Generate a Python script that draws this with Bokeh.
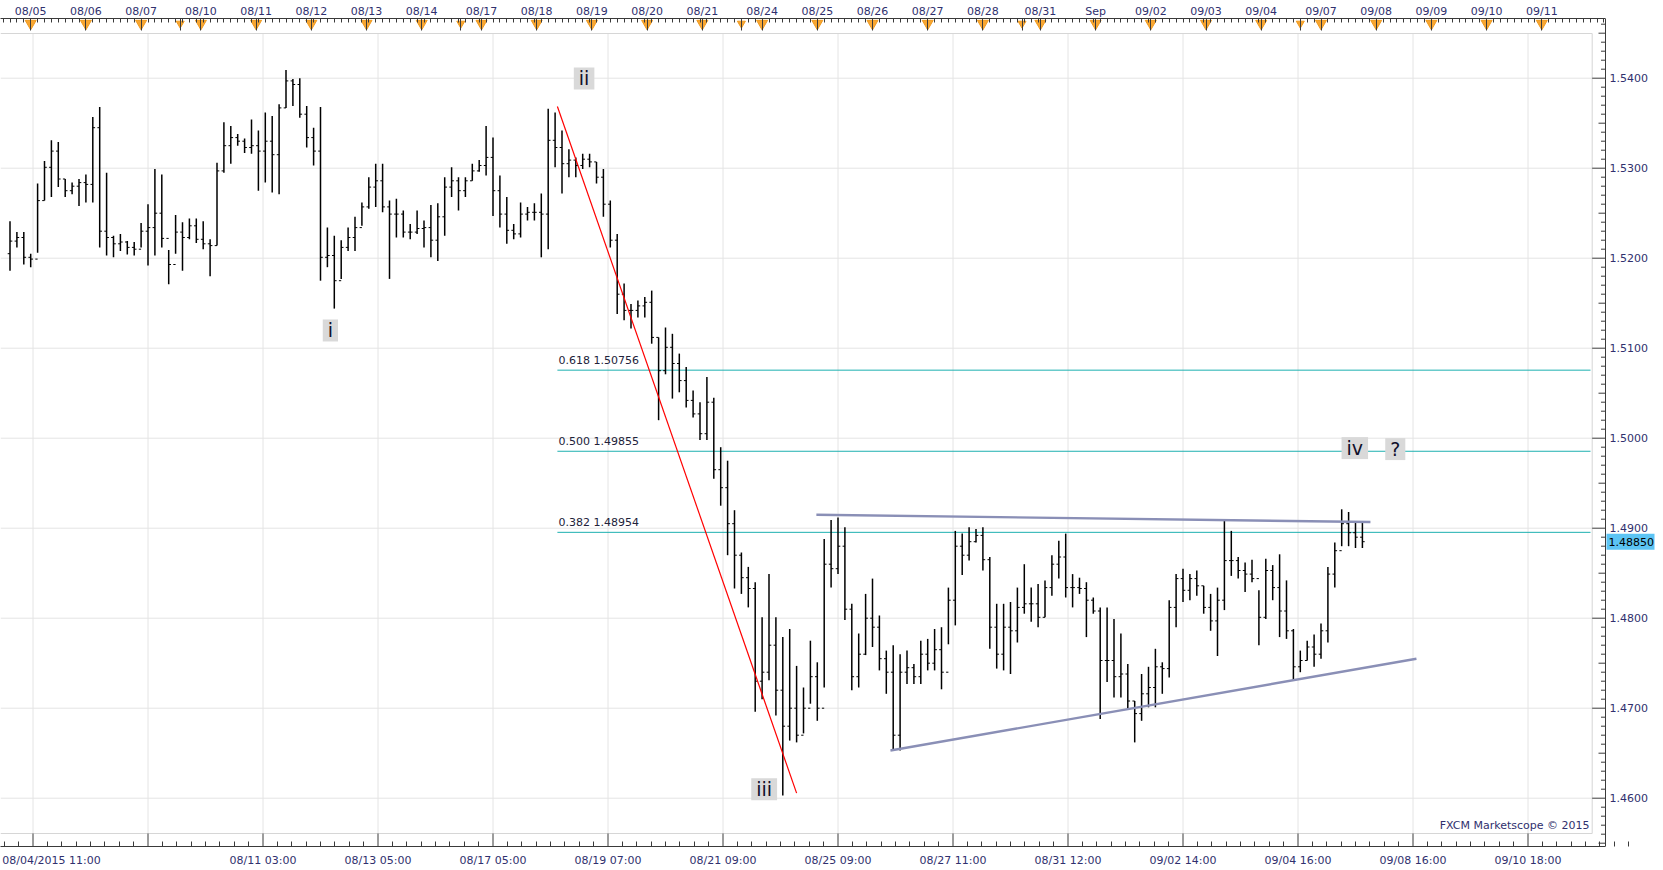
from bokeh.plotting import figure
from bokeh.models import (ColumnDataSource, LinearAxis, FixedTicker, Range1d, Label)
from bokeh.core.properties import value
from bokeh.embed import file_html
from bokeh.resources import INLINE

# ---------------- data (GBP/USD, 3-hour bars) ----------------
FIRST_HOUR = -10          # trading-hour index of first bar (hour 0 = 08/04/2015 11:00)
BAR_HOURS = 3
FIRST_OPEN = 1.5205

HIGH = [
    1.5241, 1.5229, 1.5229, 1.5205, 1.5283, 1.5308, 1.5331, 1.5329, 1.5288, 1.5284,
    1.5288, 1.5293, 1.5357, 1.5368, 1.5295, 1.5225, 1.5227, 1.5219, 1.5218, 1.5239,
    1.5260, 1.5299, 1.5293, 1.5209, 1.5248, 1.5240, 1.5244, 1.5244, 1.5241, 1.5221,
    1.5306, 1.5351, 1.5347, 1.5338, 1.5333, 1.5354, 1.5342, 1.5362, 1.5358, 1.5371,
    1.5409, 1.5399, 1.5400, 1.5369, 1.5345, 1.5368, 1.5234,
    1.5225, 1.5220, 1.5234, 1.5246, 1.5262, 1.5290, 1.5305, 1.5305, 1.5264, 1.5266,
    1.5253, 1.5238, 1.5253, 1.5242, 1.5259, 1.5261, 1.5290, 1.5301, 1.5290, 1.5290,
    1.5305, 1.5309, 1.5347, 1.5334, 1.5292, 1.5268, 1.5238, 1.5262, 1.5257, 1.5261,
    1.5272, 1.5366, 1.5362, 1.5342, 1.5321, 1.5312, 1.5316, 1.5316, 1.5307, 1.5299,
    1.5264, 1.5227, 1.5172, 1.5149, 1.5153, 1.5157, 1.5164, 1.5112, 1.5123, 1.5116,
    1.5094, 1.5079, 1.5053,
    1.5040, 1.5068, 1.5045, 1.4990, 1.4975, 1.4920, 1.4873, 1.4857, 1.4840, 1.4801,
    1.4849, 1.4801, 1.4779, 1.4788, 1.4747, 1.4723, 1.4775, 1.4751, 1.4888, 1.4909,
    1.4912, 1.4901, 1.4816, 1.4783, 1.4827, 1.4844, 1.4803, 1.4764, 1.4770, 1.4760,
    1.4764, 1.4749, 1.4775, 1.4777, 1.4788, 1.4790, 1.4834, 1.4897, 1.4894, 1.4901,
    1.4899, 1.4901, 1.4868, 1.4816, 1.4816,
    1.4818, 1.4834, 1.4860, 1.4834, 1.4838, 1.4842, 1.4870, 1.4886, 1.4894, 1.4849,
    1.4845, 1.4840, 1.4823, 1.4812, 1.4812, 1.4799, 1.4783, 1.4749, 1.4708, 1.4738,
    1.4746, 1.4766, 1.4751, 1.4820, 1.4849, 1.4855, 1.4849, 1.4853, 1.4836, 1.4827,
    1.4834, 1.4910, 1.4897, 1.4868, 1.4862, 1.4865, 1.4831, 1.4866, 1.4859, 1.4871,
    1.4842, 1.4788, 1.4764, 1.4775, 1.4782, 1.4794, 1.4857, 1.4884, 1.4921, 1.4918,
    1.4908, 1.4908,
]
LOW = [
    1.5186, 1.5212, 1.5193, 1.5190, 1.5206, 1.5264, 1.5268, 1.5279, 1.5268, 1.5271,
    1.5258, 1.5262, 1.5262, 1.5212, 1.5203, 1.5201, 1.5208, 1.5204, 1.5203, 1.5212,
    1.5192, 1.5203, 1.5212, 1.5171, 1.5205, 1.5186, 1.5221, 1.5217, 1.5210, 1.5180,
    1.5214, 1.5295, 1.5305, 1.5325, 1.5317, 1.5316, 1.5275, 1.5284, 1.5273, 1.5271,
    1.5367, 1.5369, 1.5356, 1.5323, 1.5303, 1.5175, 1.5190,
    1.5144, 1.5177, 1.5208, 1.5208, 1.5236, 1.5255, 1.5257, 1.5251, 1.5177, 1.5223,
    1.5223, 1.5221, 1.5227, 1.5212, 1.5201, 1.5197, 1.5225, 1.5268, 1.5253, 1.5268,
    1.5286, 1.5296, 1.5292, 1.5247, 1.5234, 1.5216, 1.5221, 1.5223, 1.5242, 1.5242,
    1.5201, 1.5210, 1.5301, 1.5272, 1.5290, 1.5290, 1.5299, 1.5301, 1.5283, 1.5246,
    1.5212, 1.5138, 1.5131, 1.5122, 1.5134, 1.5134, 1.5105, 1.5020, 1.5071, 1.5044,
    1.5051, 1.5034, 1.5023,
    1.4998, 1.4998, 1.4955, 1.4925, 1.4870, 1.4833, 1.4827, 1.4812, 1.4696, 1.4710,
    1.4731, 1.4692, 1.4603, 1.4664, 1.4662, 1.4672, 1.4705, 1.4686, 1.4723, 1.4834,
    1.4849, 1.4798, 1.4720, 1.4723, 1.4759, 1.4768, 1.4742, 1.4716, 1.4653, 1.4653,
    1.4727, 1.4727, 1.4727, 1.4742, 1.4742, 1.4721, 1.4771, 1.4792, 1.4848, 1.4864,
    1.4884, 1.4853, 1.4766, 1.4744, 1.4742,
    1.4738, 1.4773, 1.4805, 1.4796, 1.4790, 1.4801, 1.4825, 1.4844, 1.4823, 1.4812,
    1.4827, 1.4779, 1.4805, 1.4688, 1.4729, 1.4712, 1.4712, 1.4699, 1.4662, 1.4686,
    1.4701, 1.4701, 1.4716, 1.4734, 1.4790, 1.4818, 1.4820, 1.4825, 1.4805, 1.4786,
    1.4758, 1.4809, 1.4847, 1.4844, 1.4829, 1.4840, 1.4770, 1.4799, 1.4820, 1.4779,
    1.4777, 1.4731, 1.4740, 1.4753, 1.4746, 1.4755, 1.4773, 1.4834, 1.4880, 1.4880,
    1.4878, 1.4878,
]
CLOSE = [
    1.5219, 1.5223, 1.5201, 1.5199, 1.5264, 1.5301, 1.5319, 1.5288, 1.5275, 1.5280,
    1.5284, 1.5282, 1.5345, 1.5230, 1.5223, 1.5216, 1.5218, 1.5212, 1.5210, 1.5230,
    1.5234, 1.5250, 1.5222, 1.5193, 1.5229, 1.5223, 1.5236, 1.5221, 1.5216, 1.5214,
    1.5297, 1.5325, 1.5334, 1.5330, 1.5323, 1.5325, 1.5319, 1.5330, 1.5315, 1.5367,
    1.5397, 1.5393, 1.5360, 1.5334, 1.5319, 1.5201, 1.5203,
    1.5175, 1.5212, 1.5223, 1.5234, 1.5257, 1.5279, 1.5286, 1.5257, 1.5249, 1.5249,
    1.5229, 1.5229, 1.5233, 1.5234, 1.5220, 1.5246, 1.5279, 1.5286, 1.5275, 1.5286,
    1.5297, 1.5303, 1.5312, 1.5275, 1.5249, 1.5231, 1.5227, 1.5249, 1.5251, 1.5251,
    1.5249, 1.5331, 1.5323, 1.5305, 1.5309, 1.5303, 1.5310, 1.5307, 1.5290, 1.5260,
    1.5220, 1.5160, 1.5142, 1.5142, 1.5147, 1.5151, 1.5112, 1.5075, 1.5101, 1.5083,
    1.5064, 1.5042, 1.5027,
    1.5005, 1.5040, 1.4965, 1.4945, 1.4905, 1.4870, 1.4845, 1.4833, 1.4730, 1.4740,
    1.4770, 1.4720, 1.4680, 1.4700, 1.4670, 1.4700, 1.4735, 1.4700, 1.4860, 1.4855,
    1.4880, 1.4810, 1.4735, 1.4760, 1.4800, 1.4790, 1.4755, 1.4740, 1.4670, 1.4740,
    1.4745, 1.4735, 1.4760, 1.4750, 1.4765, 1.4740, 1.4820, 1.4880, 1.4870, 1.4885,
    1.4892, 1.4865, 1.4790, 1.4760, 1.4790,
    1.4786, 1.4812, 1.4816, 1.4816, 1.4801, 1.4834, 1.4860, 1.4868, 1.4834, 1.4834,
    1.4833, 1.4820, 1.4808, 1.4753, 1.4753, 1.4735, 1.4738, 1.4708, 1.4694, 1.4716,
    1.4723, 1.4746, 1.4744, 1.4812, 1.4844, 1.4831, 1.4844, 1.4836, 1.4812, 1.4797,
    1.4820, 1.4864, 1.4864, 1.4853, 1.4849, 1.4844, 1.4801, 1.4853, 1.4834, 1.4808,
    1.4786, 1.4746, 1.4753, 1.4768, 1.4760, 1.4786, 1.4849, 1.4875, 1.4905, 1.4895,
    1.4890, 1.4885,
]

TOP_TICK_HOURS = [-1, 23, 47, 64, 73, 97, 121, 145, 169, 186, 195, 219, 243, 267, 291,
                  308, 317, 341, 365, 389, 413, 430, 438, 462, 486, 510, 534, 551, 560,
                  584, 608, 632, 656]
TOP_TICK_LABELS = ["08/05", "08/06", "08/07", "", "08/10", "08/11", "08/12", "08/13",
                   "08/14", "", "08/17", "08/18", "08/19", "08/20", "08/21", "", "08/24",
                   "08/25", "08/26", "08/27", "08/28", "", "08/31", "Sep", "09/02",
                   "09/03", "09/04", "", "09/07", "09/08", "09/09", "09/10", "09/11"]
BOTTOM_TICK_HOURS = [0, 50, 100, 150, 200, 250, 300, 350, 400, 450, 500, 550, 600, 650]
BOTTOM_TICK_LABELS = ["08/04/2015 11:00", "", "08/11 03:00", "08/13 05:00", "08/17 05:00",
                      "08/19 07:00", "08/21 09:00", "08/25 09:00", "08/27 11:00",
                      "08/31 12:00", "09/02 14:00", "09/04 16:00", "09/08 16:00",
                      "09/10 18:00"]
PRICE_TICKS = [1.46, 1.47, 1.48, 1.49, 1.50, 1.51, 1.52, 1.53, 1.54]

FIB_RATIOS = ["0.618", "0.500", "0.382"]
FIB_LEVELS = [1.50756, 1.49855, 1.48954]
FIB_START_HOUR = 228
LAST_PRICE = 1.48850

WAVE_LABELS = ["i", "ii", "iii", "iv", "?"]
WAVE_HOURS = [129.3, 239.6, 317.9, 574.7, 592.3]
WAVE_PRICES = [1.51197, 1.53997, 1.46100, 1.49890, 1.49879]

RED_LINE_HOURS = [228.0, 332.0]
RED_LINE_PRICES = [1.53686, 1.46056]
UPPER_LINE_HOURS = [340.6, 581.5]
UPPER_LINE_PRICES = [1.49149, 1.49069]
LOWER_LINE_HOURS = [372.8, 601.5]
LOWER_LINE_PRICES = [1.46530, 1.47549]

# ---------------- layout / scale constants (page pixels) ----------------
X_HOUR0 = 32.5        # page x of hour 0
PX_PER_HOUR = 2.3
Y_PRICE0 = 77.7       # page y of price 1.54
PRICE0 = 1.54
PX_PER_PRICE = 9000.0
TOP_PANEL = 18
BOTTOM_PANEL = 22
FRAME_W = 1660
FRAME_H = 828
AXIS_X = 1605         # price axis line
IN_RIGHT = 1591.7     # inner plot border
IN_TOP = 33.0
IN_BOTTOM = 833.0


def hx(px):
    return (px - X_HOUR0) / PX_PER_HOUR


def py(pyv):
    return PRICE0 - (pyv - Y_PRICE0) / PX_PER_PRICE


x_range = Range1d(hx(0), hx(FRAME_W))
y_range = Range1d(py(TOP_PANEL + FRAME_H), py(TOP_PANEL))

p = figure(frame_width=FRAME_W, frame_height=FRAME_H, x_range=x_range, y_range=y_range,
           output_backend="svg", toolbar_location=None,
           x_axis_location=None, y_axis_location=None,
           min_border_left=0, min_border_right=0, min_border_top=TOP_PANEL,
           min_border_bottom=BOTTOM_PANEL)
p.outline_line_color = None
p.grid.grid_line_color = None
p.background_fill_color = "white"
p.border_fill_color = "white"

AXIS_TEXT = "#30306E"
AXIS_COLOR = "#3A3A3A"
FONT = "DejaVu Sans"

x_left = hx(0)
x_in_right = hx(IN_RIGHT)
x_axis = hx(AXIS_X)

# gridlines
p.segment(x0=[x_left] * len(PRICE_TICKS), y0=PRICE_TICKS,
          x1=[x_in_right] * len(PRICE_TICKS), y1=PRICE_TICKS,
          line_color="#E4E4E4", line_width=1)
p.segment(x0=BOTTOM_TICK_HOURS, y0=[py(IN_BOTTOM)] * len(BOTTOM_TICK_HOURS),
          x1=BOTTOM_TICK_HOURS, y1=[py(IN_TOP)] * len(BOTTOM_TICK_HOURS),
          line_color="#E4E4E4", line_width=1)
# inner frame
p.segment(x0=[x_in_right, x_left, x_left], y0=[py(IN_TOP), py(IN_TOP), py(IN_BOTTOM)],
          x1=[x_in_right, x_in_right, x_in_right], y1=[py(IN_BOTTOM), py(IN_TOP), py(IN_BOTTOM)],
          line_color="#D6D6D6", line_width=1)

# fibonacci levels
fib_end = hx(1590)
p.segment(x0=[FIB_START_HOUR] * 3, y0=FIB_LEVELS, x1=[fib_end] * 3, y1=FIB_LEVELS,
          line_color="#1CB0B0", line_width=1)
for r, lv in zip(FIB_RATIOS, FIB_LEVELS):
    p.add_layout(Label(x=FIB_START_HOUR, y=lv, text=f"{r} {lv:.5f}", x_offset=1, y_offset=3,
                       text_font=FONT, text_font_size="11px", text_color="#22223A",
                       text_baseline="bottom", text_align="left"))

# OHLC bars
hours = [FIRST_HOUR + BAR_HOURS * i for i in range(len(HIGH))]
opens = [FIRST_OPEN] + CLOSE[:-1]
src = ColumnDataSource(dict(t=hours, h=HIGH, l=LOW, c=CLOSE, o=opens,
                            tl=[t - 1.0 for t in hours], tr=[t + 1.0 for t in hours]))
p.segment(x0="t", y0="l", x1="t", y1="h", source=src, line_color="black", line_width=1.5)
p.segment(x0="tl", y0="o", x1="t", y1="o", source=src, line_color="black", line_width=1)
p.segment(x0="t", y0="c", x1="tr", y1="c", source=src, line_color="black", line_width=1)

# analyst lines
p.line(RED_LINE_HOURS, RED_LINE_PRICES, line_color="#FF0000", line_width=1.2)
p.line(UPPER_LINE_HOURS, UPPER_LINE_PRICES, line_color="#8A8FB6", line_width=2.4)
p.line(LOWER_LINE_HOURS, LOWER_LINE_PRICES, line_color="#8A8FB6", line_width=2.4)

# wave labels
for txt, wx, wy in zip(WAVE_LABELS, WAVE_HOURS, WAVE_PRICES):
    p.add_layout(Label(x=wx, y=wy, text=txt, text_align="center", text_baseline="middle",
                       text_font=FONT, text_font_size="19px", text_color="#10102A",
                       background_fill_color="#D9D9D9", background_fill_alpha=1.0,
                       padding=dict(left=5, right=5, top=0, bottom=0)))

# orange day markers under the top axis
tri_y = py(TOP_PANEL + 5)
big = [h for h, lab in zip(TOP_TICK_HOURS, TOP_TICK_LABELS) if lab]
small = [h for h, lab in zip(TOP_TICK_HOURS, TOP_TICK_LABELS) if not lab]
p.scatter(big, [tri_y] * len(big), marker="inverted_triangle", size=11,
          fill_color="#F8A631", line_color="#F09A1E")
p.scatter(small, [tri_y] * len(small), marker="inverted_triangle", size=8,
          fill_color="#F8A631", line_color="#F09A1E")

# ---------------- axes ----------------
axis_style = dict(axis_line_color=AXIS_COLOR, major_tick_line_color=AXIS_COLOR,
                  minor_tick_line_color=AXIS_COLOR, major_tick_out=0, minor_tick_out=0,
                  major_label_text_font=FONT, major_label_text_font_size="11px",
                  major_label_text_color=AXIS_TEXT, bounds=(x_left, x_axis))

top_minor = list(range(-13, 684, 3))
top_axis = LinearAxis(ticker=FixedTicker(ticks=TOP_TICK_HOURS, minor_ticks=top_minor),
                      major_label_overrides=dict(zip(TOP_TICK_HOURS, TOP_TICK_LABELS)),
                      major_tick_in=12, minor_tick_in=4, major_label_standoff=1, **axis_style)
p.add_layout(top_axis, "above")

# bottom axis: the first label is left-aligned at the chart edge in the original,
# so its label tick sits at the centre of that text; tick marks are drawn below.
FIRST_LABEL_CENTER_PX = 51
label_hours = [hx(FIRST_LABEL_CENTER_PX)] + [h for h, lab in zip(BOTTOM_TICK_HOURS, BOTTOM_TICK_LABELS)
                                             if lab and h != BOTTOM_TICK_HOURS[0]]
label_texts = [BOTTOM_TICK_LABELS[0]] + [lab for h, lab in zip(BOTTOM_TICK_HOURS, BOTTOM_TICK_LABELS)
                                         if lab and h != BOTTOM_TICK_HOURS[0]]
bottom_minor = [b + 6.25 * k for b in range(-50, 700, 50) for k in range(1, 8)]
bottom_axis = LinearAxis(ticker=FixedTicker(ticks=label_hours, minor_ticks=bottom_minor),
                         major_label_overrides=dict(zip(label_hours, label_texts)),
                         major_tick_in=0, minor_tick_in=5, major_label_standoff=7, **axis_style)
p.add_layout(bottom_axis, "below")
bottom_line_y = py(TOP_PANEL + FRAME_H)
p.segment(x0=BOTTOM_TICK_HOURS, y0=[bottom_line_y] * len(BOTTOM_TICK_HOURS),
          x1=BOTTOM_TICK_HOURS, y1=[py(IN_BOTTOM)] * len(BOTTOM_TICK_HOURS),
          line_color=AXIS_COLOR, line_width=1)

# price scale on the right (axis line, ticks, labels, last-price tag)
p.segment(x0=[x_axis], y0=[py(TOP_PANEL)], x1=[x_axis], y1=[bottom_line_y],
          line_color=AXIS_COLOR, line_width=1)
p.segment(x0=[x_in_right] * len(PRICE_TICKS), y0=PRICE_TICKS,
          x1=[x_axis] * len(PRICE_TICKS), y1=PRICE_TICKS, line_color=AXIS_COLOR, line_width=1)
minor_prices = [round(1.455 + 0.001 * k, 3) for k in range(0, 92)]
minor_prices = [m for m in minor_prices if m not in PRICE_TICKS]
minor_len = [7.0 if round(m * 1000) % 5 == 0 else 4.5 for m in minor_prices]
p.segment(x0=[hx(AXIS_X - L) for L in minor_len], y0=minor_prices,
          x1=[x_axis] * len(minor_prices), y1=minor_prices, line_color=AXIS_COLOR, line_width=1)
p.text(x=[hx(AXIS_X + 4)] * len(PRICE_TICKS), y=PRICE_TICKS,
       text=[f"{v:.4f}" for v in PRICE_TICKS], text_font=value(FONT), text_font_size="11px",
       text_color=AXIS_TEXT, text_align="left", text_baseline="middle")
tag_half = 8.0 / PX_PER_PRICE
p.quad(left=[hx(AXIS_X + 1)], right=[hx(AXIS_X + 49)], top=[LAST_PRICE + tag_half],
       bottom=[LAST_PRICE - tag_half], fill_color="#5CC4F4", line_color=None)
p.text(x=[hx(AXIS_X + 3)], y=[LAST_PRICE], text=[f"{LAST_PRICE:.5f}"], text_font=value(FONT),
       text_font_size="11px", text_color="#000000", text_align="left", text_baseline="middle")

# copyright
p.add_layout(Label(x=hx(1589), y=py(825), text="FXCM Marketscope \u00a9 2015", text_align="right",
                   text_baseline="middle", text_font=FONT, text_font_size="11px",
                   text_color=AXIS_TEXT))

open("out.html", "w").write(file_html(p, INLINE))
